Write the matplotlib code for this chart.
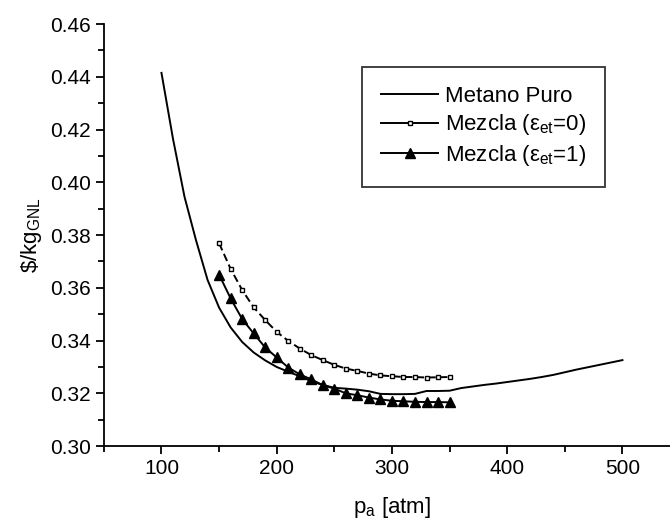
import numpy as np
import matplotlib

matplotlib.use("Agg")
import matplotlib.pyplot as plt
from matplotlib.lines import Line2D
from matplotlib.ticker import MultipleLocator, FormatStrFormatter

# Data
P_METANO = [100, 110, 120, 130, 140, 150, 160, 170, 180, 190, 200, 210, 220,
            230, 240, 250, 260, 270, 280, 290, 300, 310, 320, 330, 340, 350,
            360, 370, 380, 390, 400, 410, 420, 430, 440, 450, 460, 470, 480,
            490, 500]
COST_METANO = [0.4415, 0.4165, 0.3945, 0.3780, 0.3630, 0.3525, 0.3450, 0.3395,
               0.3355, 0.3325, 0.3300, 0.3282, 0.3265, 0.3246, 0.3232, 0.3221,
               0.3218, 0.3214, 0.3208, 0.3198, 0.3197, 0.3197, 0.3198, 0.3209,
               0.3209, 0.3210, 0.3220, 0.3226, 0.3232, 0.3237, 0.3243, 0.3249,
               0.3255, 0.3262, 0.3270, 0.3280, 0.3290, 0.3299, 0.3308, 0.3317,
               0.3326]

P_MEZCLA = [150, 160, 170, 180, 190, 200, 210, 220, 230, 240, 250, 260, 270,
            280, 290, 300, 310, 320, 330, 340, 350]
COST_ET0 = [0.3769, 0.3672, 0.3592, 0.3526, 0.3478, 0.3433, 0.3399, 0.3370,
            0.3345, 0.3326, 0.3308, 0.3294, 0.3285, 0.3275, 0.3268, 0.3265,
            0.3262, 0.3262, 0.3260, 0.3261, 0.3262]
COST_ET1 = [0.3650, 0.3560, 0.3482, 0.3427, 0.3374, 0.3336, 0.3298, 0.3272,
            0.3253, 0.3231, 0.3218, 0.3200, 0.3193, 0.3184, 0.3177, 0.3172,
            0.3170, 0.3168, 0.3167, 0.3167, 0.3166]

LABELS = ["Metano Puro", "Mezcla (ε$_{et}$=0)", "Mezcla (ε$_{et}$=1)"]

plt.rcParams.update(
    {
        "font.family": ["Liberation Sans", "DejaVu Sans"],
        "mathtext.default": "regular",
        "axes.linewidth": 1.3,
    }
)

fig = plt.figure(figsize=(6.7, 5.23), dpi=100)
ax = fig.add_axes([0.155, 0.147, 0.86, 0.807])

sq_style = dict(marker="s", ms=3.5, mfc="white", mec="black", mew=1.0)
tri_style = dict(marker="^", ms=7, mfc="black", mec="black")

ax.plot(P_METANO, COST_METANO, color="black", lw=1.4)
ax.plot(P_MEZCLA, COST_ET0, color="black", lw=1.4, ls=(0, (4, 2)), **sq_style)
ax.plot(P_MEZCLA, COST_ET1, color="black", lw=1.4, **tri_style)

ax.set_xlim(50, 550)
ax.set_ylim(0.30, 0.46)
ax.xaxis.set_major_locator(MultipleLocator(100))
ax.xaxis.set_minor_locator(MultipleLocator(50))
ax.yaxis.set_major_locator(MultipleLocator(0.02))
ax.yaxis.set_minor_locator(MultipleLocator(0.01))
ax.yaxis.set_major_formatter(FormatStrFormatter("%.2f"))
ax.tick_params(which="major", direction="out", length=6, width=1.3,
               labelsize=15)
ax.tick_params(which="minor", direction="out", length=4, width=1.3)
for side in ("top", "right"):
    ax.spines[side].set_visible(False)

ax.set_xlabel("p$_a$ [atm]", fontsize=16, labelpad=12)
ax.set_ylabel(r"\$/kg$_{GNL}$", fontsize=16)

# legend shows plain solid lines through the markers
handles = [
    Line2D([], [], color="black", lw=1.4),
    Line2D([], [], color="black", lw=1.4, **sq_style),
    Line2D([], [], color="black", lw=1.4, **tri_style),
]
leg = ax.legend(handles, LABELS, loc="upper left", bbox_to_anchor=(0.54, 0.872),
                bbox_transform=fig.transFigure, fontsize=16,
                frameon=True, fancybox=False, handlelength=2.6,
                handletextpad=0.3, borderpad=0.85, labelspacing=0.25,
                borderaxespad=0)
leg.get_frame().set_edgecolor("black")
leg.get_frame().set_linewidth(1.3)

fig.savefig("out.png", dpi=100)
